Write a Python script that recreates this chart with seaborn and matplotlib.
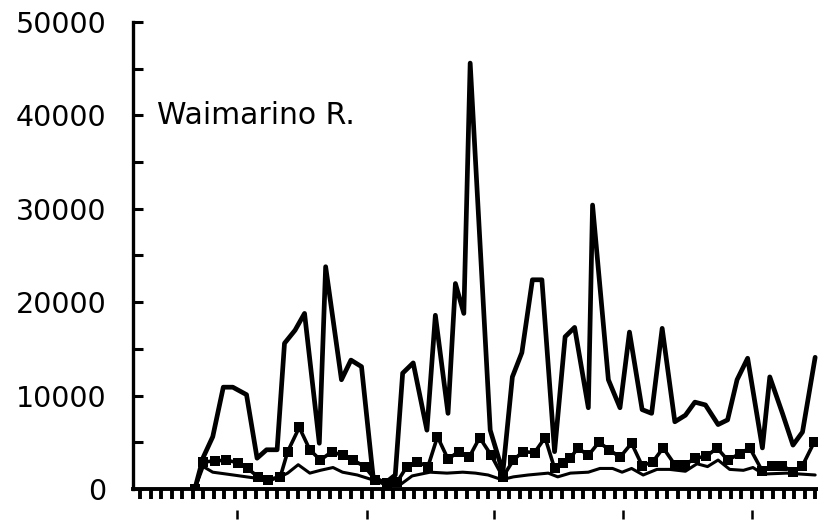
import matplotlib
matplotlib.use("Agg")
import matplotlib.pyplot as plt
import seaborn as sns
import pandas as pd
import numpy as np

# ---- data (month index, values in load units) ----
top_x = [5.2, 6.0, 6.9, 7.9, 8.8, 10.1, 11.1, 12.0, 13.0, 13.7, 14.7, 15.6, 17.0, 17.6,
         19.1, 20.0, 21.0, 22.1, 23.2, 24.2, 24.9, 25.9, 27.2, 28.0, 29.2, 29.9, 30.7,
         31.3, 33.2, 34.4, 35.3, 36.2, 37.2, 38.1, 39.3, 40.3, 41.2, 42.5, 42.9, 44.4,
         45.5, 46.4, 47.6, 48.5, 49.5, 50.7, 51.7, 52.6, 53.6, 54.8, 55.7, 56.6, 57.6,
         59.0, 59.7, 60.9, 61.9, 62.8, 64.0]
top_y = [0, 3400, 5600, 10900, 10900, 10100, 3300, 4200, 4200, 15600, 17000, 18800, 4900,
         23800, 11700, 13800, 13100, 1300, 600, 1500, 12400, 13500, 6300, 18600, 8100,
         22000, 18800, 45600, 6300, 1800, 12000, 14600, 22400, 22400, 4000, 16300, 17300,
         8700, 30400, 11700, 8700, 16800, 8500, 8100, 17200, 7200, 7900, 9300, 9000, 6900,
         7400, 11700, 14000, 4400, 12000, 8100, 4700, 6100, 14100]

mid_x = [5.2, 6.0, 7.1, 8.2, 9.3, 10.2, 11.2, 12.1, 13.3, 14.0, 15.1, 16.1, 17.1, 18.2,
         19.2, 20.2, 21.3, 22.3, 23.4, 24.4, 25.3, 26.3, 27.3, 28.2, 29.2, 30.2, 31.2,
         32.2, 33.3, 34.4, 35.4, 36.3, 37.4, 38.4, 39.3, 40.1, 40.8, 41.5, 42.5, 43.5,
         44.5, 45.5, 46.6, 47.6, 48.6, 49.6, 50.7, 51.7, 52.6, 53.7, 54.7, 55.7, 56.9,
         57.8, 59.0, 59.9, 60.9, 61.9, 62.8, 63.9]
mid_y = [0, 2900, 3000, 3100, 2800, 2200, 1300, 1000, 1300, 4000, 6600, 4200, 3100, 4000,
         3600, 3100, 2400, 1000, 600, 800, 2400, 2900, 2400, 5600, 3200, 4000, 3400, 5500,
         3600, 1300, 3100, 4000, 3900, 5500, 2200, 2800, 3300, 4400, 3600, 5000, 4200,
         3400, 4900, 2500, 2900, 4400, 2600, 2600, 3300, 3500, 4400, 3100, 3800, 4400,
         1900, 2500, 2500, 1800, 2500, 5000]

low_x = [5.2, 6.0, 6.9, 8.2, 10.1, 11.4, 12.3, 13.3, 14.0, 15.0, 16.1, 17.1, 18.3, 19.2,
         20.6, 22.0, 23.2, 24.6, 25.8, 27.5, 29.1, 30.6, 31.8, 33.0, 34.3, 35.4, 36.8,
         38.7, 39.6, 40.8, 42.5, 43.6, 44.8, 45.7, 46.6, 47.7, 49.0, 50.2, 51.7, 52.8,
         53.8, 54.8, 55.9, 57.2, 58.1, 59.1, 61.3, 62.6, 64.0]
low_y = [0, 2400, 1800, 1600, 1300, 1100, 900, 1300, 1700, 2600, 1700, 2000, 2300, 1800,
         1500, 1000, 500, 400, 1400, 1800, 1700, 1800, 1700, 1500, 1000, 1300, 1500, 1700,
         1300, 1700, 1800, 2200, 2200, 1800, 2200, 1500, 2100, 2100, 1900, 2700, 2400,
         3100, 2100, 2000, 2300, 1600, 1700, 1600, 1500]

y_ticks = [0, 10000, 20000, 30000, 40000, 50000]
y_labels = ["0", "10000", "20000", "30000", "40000", "50000"]
month_ticks = list(range(0, 65))
year_marks = [9.2, 21.5, 33.55, 45.8, 58.0]
title_text = "Waimarino R."

# ---- style ----
sns.set_style("white")
plt.rcParams["font.family"] = ["DejaVu Sans"]

fig = plt.figure(figsize=(8.18, 5.26), dpi=100)
ax = fig.add_axes([133 / 818, 37 / 526, 685 / 818, 467 / 526])

df_top = pd.DataFrame({"x": top_x, "y": top_y})
df_mid = pd.DataFrame({"x": mid_x, "y": mid_y})
df_low = pd.DataFrame({"x": low_x, "y": low_y})

sns.lineplot(data=df_low, x="x", y="y", ax=ax, color="black", lw=2.2,
             estimator=None, sort=False)
sns.lineplot(data=df_mid, x="x", y="y", ax=ax, color="black", lw=2.6,
             marker="s", markersize=6.5, markeredgewidth=0,
             estimator=None, sort=False)
sns.lineplot(data=df_top, x="x", y="y", ax=ax, color="black", lw=3.4,
             estimator=None, sort=False)

ax.set_xlim(-0.66, 64.27)
ax.set_ylim(0, 50000)

ax.set_yticks(y_ticks)
ax.set_yticklabels(y_labels, fontsize=20.5)
ax.set_yticks(np.arange(5000, 50000, 10000), minor=True)
ax.tick_params(axis="y", which="both", direction="in", length=7, width=2.2,
               pad=19, left=True, colors="black")

ax.set_xticks(month_ticks)
ax.set_xticklabels([])
ax.tick_params(axis="x", which="major", direction="out", length=7, width=2.8,
               bottom=True, colors="black")

for s in ["top", "right"]:
    ax.spines[s].set_visible(False)
ax.spines["left"].set_linewidth(2.4)
ax.spines["bottom"].set_linewidth(2.8)
ax.spines["left"].set_color("black")
ax.spines["bottom"].set_color("black")

sec = ax.secondary_xaxis(-0.045)
sec.set_xticks(year_marks)
sec.set_xticklabels([])
sec.tick_params(axis="x", direction="out", length=6.5, width=1.8, colors="black")
sec.spines["bottom"].set_visible(False)

ax.set_xlabel("")
ax.set_ylabel("")
ax.text(0.035, 0.80, title_text, transform=ax.transAxes, fontsize=21.5,
        ha="left", va="center", color="black")

fig.savefig("out.png", dpi=100)
